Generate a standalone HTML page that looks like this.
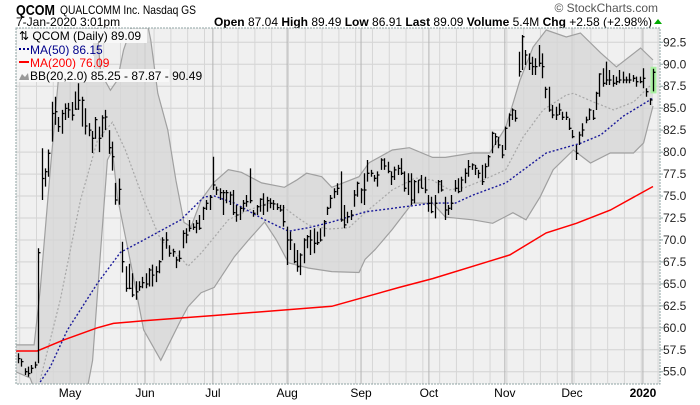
<!DOCTYPE html>
<html><head><meta charset="utf-8">
<style>
body{margin:0;background:#fff;width:700px;height:400px;overflow:hidden;font-family:"Liberation Sans",sans-serif;}
svg text{font-family:"Liberation Sans",sans-serif;}
</style></head>
<body>
<svg id="chart" width="700" height="400" viewBox="0 0 700 400" xmlns="http://www.w3.org/2000/svg">
  <g>
    <text x="16" y="15" font-size="15" font-weight="bold" fill="#000" textLength="39" lengthAdjust="spacingAndGlyphs">QCOM</text>
    <text x="60" y="14" font-size="12" fill="#000" textLength="136" lengthAdjust="spacingAndGlyphs">QUALCOMM Inc.  Nasdaq GS</text>
    <text x="16" y="26" font-size="12" fill="#000">7-Jan-2020 3:01pm</text>
    <text x="658" y="12" font-size="12" fill="#555" text-anchor="end">© StockCharts.com</text>
    <text x="652" y="26" font-size="12" fill="#000" text-anchor="end"><tspan font-weight="bold">Open</tspan> 87.04  <tspan font-weight="bold">High</tspan> 89.49  <tspan font-weight="bold">Low</tspan> 86.91  <tspan font-weight="bold">Last</tspan> 89.09  <tspan font-weight="bold">Volume</tspan> 5.4M  <tspan font-weight="bold">Chg</tspan> +2.58 (+2.98%)</text>
    <path d="M654 24 L658 19 L662 24 Z" fill="#00aa00"/>
  </g>
  <rect x="16" y="28" width="644" height="356" fill="#f0f0f0"/>
  <g id="grid"></g>
  <g id="bands"></g>
  <g id="lines"></g>
  <g id="bars"></g>
  <rect x="16" y="28" width="644" height="356" fill="none" stroke="#8fa3a3" stroke-width="1" stroke-dasharray="2,1"/>
  <g id="axes"></g>
  <g>
    <rect x="17" y="29" width="130" height="14" fill="#f8f8f8"/>
    <text x="19" y="40" font-size="12" fill="#000">⇅ QCOM (Daily) 89.09</text>
    <rect x="17" y="43" width="76" height="13" fill="#f8f8f8"/>
    <line x1="19" y1="49" x2="29" y2="49" stroke="#00008b" stroke-width="2" stroke-dasharray="2,2"/>
    <text x="30" y="54" font-size="12" fill="#00008b">MA(50) 86.15</text>
    <rect x="17" y="56" width="77" height="13" fill="#f8f8f8"/>
    <line x1="19" y1="62" x2="29" y2="62" stroke="#ff0000" stroke-width="2"/>
    <text x="30" y="67" font-size="12" fill="#ff0000">MA(200) 76.09</text>
    <rect x="17" y="69" width="152" height="13" fill="#f8f8f8"/>
    <path d="M19 80 L22 74 L25 77 L28 73 L29 80 Z" fill="#999"/>
    <text x="30" y="80" font-size="12" fill="#000">BB(20,2.0) 85.25 - 87.87 - 90.49</text>
  </g>
</svg>
<script>
// ---- data ----
const highs = [57.1,56.5,55.39,55.58,55.77,56.15,69.05,80.43,78.15,80.3,85.74,86.3,84.0,84.8,85.55,85.6,85.7,86.9,87.83,86.3,85.0,83.3,82.4,84.0,82.9,84.2,84.8,82.5,81.2,76.5,77.0,69.8,67.0,67.3,66.2,65.3,65.3,65.8,66.2,66.8,67.2,67.0,67.7,70.3,70.9,69.4,69.0,68.1,68.8,71.1,
71.33,72.27,71.9,72.27,72.84,73.79,74.55,75.12,79.48,76.07,75.88,75.69,75.69,75.5,75.69,73.98,73.79,74.55,75.12,78.15,73.41,73.98,74.74,75.31,74.93,74.74,74.55,74.17,73.98,73.98,71.52,70.95,69.62,68.86,68.48,70.19,70.57,71.14,71.33,70.95,71.33,72.27,73.79,75.12,75.88,76.45,77.8,73.98,73.22,
73.41,75.69,76.64,75.88,77.59,79.1,77.97,77.4,77.8,79.29,79.29,78.91,77.8,78.35,78.54,79.29,77.8,77.59,77.59,76.83,76.83,77.4,77.2,75.12,74.93,75.12,76.83,76.83,74.93,73.98,75.12,76.83,77.02,77.2,78.15,79.1,78.72,78.54,77.97,78.54,78.72,79.67,
82.33,82.14,81.76,80.81,82.9,84.41,84.98,84.79,91.43,93.33,91.62,91.24,90.86,90.68,92.19,91.24,87.45,87.45,85.36,85.17,85.55,84.6,84.6,83.85,82.52,80.81,82.33,83.28,84.04,84.98,84.79,86.88,88.97,89.54,90.3,89.35,88.78,88.59,89.35,89.16,88.59,88.97,88.78,88.59,88.59,89.54,87.26,86.12,89.49];
const lows = [55.96,55.58,54.63,54.44,54.82,55.39,55.96,74.55,76.07,77.2,81.2,83.1,82.3,82.1,83.66,83.9,83.6,84.8,84.8,82.9,82.0,81.8,79.9,81.5,80.0,81.7,82.5,79.8,77.9,74.0,74.0,66.3,64.1,64.4,63.5,63.2,64.2,64.5,64.5,64.7,64.7,65.2,66.2,67.7,69.0,68.1,68.1,66.8,67.5,69.05,
69.62,70.95,71.14,70.76,71.14,72.27,73.41,73.41,75.69,75.12,74.55,72.84,74.17,73.98,72.84,72.08,72.27,73.22,73.79,74.17,72.65,72.84,73.22,72.84,73.22,73.6,73.41,73.41,73.22,71.52,67.15,68.86,67.34,66.39,66.0,67.34,69.05,68.29,68.48,69.43,69.81,70.38,72.84,73.6,74.74,75.12,72.08,71.33,71.9,
72.27,73.79,74.93,74.17,73.98,76.64,77.2,76.64,76.07,77.97,77.97,77.59,76.26,76.83,77.4,77.4,75.5,75.12,73.98,74.17,75.31,75.88,75.31,73.22,73.03,72.46,75.31,75.5,72.27,72.84,73.41,75.5,75.31,75.5,76.45,77.2,77.97,77.4,77.02,76.26,77.02,78.35,
79.86,80.81,80.43,79.29,80.24,82.9,83.66,83.47,88.59,89.35,89.92,89.35,88.78,88.78,89.73,88.4,86.12,84.6,83.85,83.66,84.23,83.66,83.66,82.52,81.57,79.1,80.81,81.76,83.28,83.66,83.66,84.79,86.31,87.45,87.64,87.64,87.45,87.64,87.83,87.83,87.83,87.83,88.02,87.45,87.83,87.26,86.31,85.36,86.91];
const closes = [56.5,56.15,55.0,54.8,55.39,55.77,68.55,77.0,77.77,79.86,84.4,84.6,82.9,84.4,84.98,84.8,84.2,84.9,85.9,85.9,82.97,82.5,81.57,83.7,81.57,83.9,84.0,80.5,79.48,74.55,75.76,67.53,64.49,64.49,63.73,64.1,64.68,65.14,64.99,66.58,66.0,66.39,67.53,70.0,70.0,68.48,68.67,67.72,67.9,70.75,
70.57,71.33,71.44,71.9,71.33,73.6,74.17,74.85,76.26,75.69,75.39,75.39,75.39,75.12,73.11,72.84,73.6,74.17,74.36,74.47,73.03,73.79,74.63,73.98,74.47,74.17,74.1,73.68,73.41,72.08,70.0,70.0,67.53,66.96,68.29,70.0,70.38,70.0,69.62,69.69,70.0,72.08,73.6,74.74,75.5,75.88,72.27,71.71,72.65,
72.84,75.12,76.45,75.69,75.69,77.59,77.59,77.02,77.4,79.1,78.42,77.8,77.2,77.97,78.15,77.59,75.88,76.64,74.55,76.64,76.83,75.88,75.69,74.17,73.22,74.17,76.64,75.69,73.41,73.6,74.17,75.88,75.5,76.83,77.59,78.35,78.54,78.15,77.59,76.64,78.35,79.48,
82.14,81.76,80.81,79.67,82.71,84.23,84.79,83.85,89.16,93.14,91.05,90.11,89.73,89.73,90.11,89.73,87.15,84.79,84.23,84.23,84.79,83.96,83.96,82.71,81.76,79.86,81.95,82.52,83.66,84.79,83.85,86.69,88.89,87.83,88.21,88.21,87.83,88.02,88.21,88.21,88.21,88.21,88.4,88.02,88.02,88.4,86.88,85.93,89.09];
// moving averages / bands: [bar index, price]
const ma200 = [[-0.6,57.36],[5.7,57.36],[13.5,58.6],[23.6,60.0],[28.4,60.5],[37.4,60.8],[58.4,61.4],[93.4,62.45],[113.5,64.6],[123.4,65.6],[141.3,67.7],[146.4,68.3],[157.2,70.8],[166.2,71.9],[176.3,73.4],[189,76.09]];
const ma50 = [[6.6,53.83],[9.6,55.55],[14.7,59.75],[23.7,65.1],[30.5,68.6],[37.4,70.0],[48.5,72.3],[55.4,74.9],[58.4,75.0],[64.4,74.2],[73.4,72.3],[80.5,71.0],[86.5,71.4],[93.4,72.05],[103.3,73.2],[123.4,74.2],[130.2,74.2],[135.3,75.1],[145.2,76.5],[157.2,79.9],[167.4,81.0],[173.4,81.95],[180.2,84.1],[189,86.15]];
const bbUpper = [[-0.6,58.05],[4.8,58.05],[6.6,64.3],[9.6,78.0],[12.0,88.2],[13.2,92.8],[15.6,96.2],[23.1,96.2],[24.6,89.0],[27.5,87.05],[29.6,88.2],[31.4,91.6],[35.0,95.6],[38.0,95.6],[39.5,92.8],[41.6,86.7],[44.6,82.5],[47.0,76.8],[49.4,72.0],[51.5,71.5],[54.5,74.55],[58.4,76.6],[62.6,78.0],[66.5,77.7],[72.5,76.5],[79.3,76.0],[82.9,76.8],[85.9,77.6],[90.4,77.2],[93.4,76.0],[101.5,77.2],[104.5,78.8],[111.4,80.24],[116.5,80.5],[123.4,79.4],[127.2,79.4],[135.3,79.9],[140.4,79.9],[145.2,82.85],[149.4,88.2],[153.3,91.96],[157.2,93.9],[163.2,93.1],[167.4,93.56],[173.4,91.3],[178.1,89.7],[185.3,91.85],[189,90.49]];
const bbMid = [[6.6,54.07],[12.6,63.2],[18.6,74.55],[23.7,81.4],[28.1,83.4],[32.0,80.2],[37.4,74.55],[42.5,70.0],[48.5,67.95],[50.6,67.0],[54.5,68.5],[58.4,70.3],[62.6,72.3],[68.6,73.4],[74.6,74.2],[78.4,73.95],[82.3,72.8],[86.5,71.7],[92.5,71.25],[98.5,71.4],[103.3,73.1],[111.4,75.7],[118.3,77.05],[123.4,76.8],[128.4,75.7],[133.2,76.0],[138.3,76.8],[145.2,78.0],[150.3,81.7],[156.3,84.8],[163.2,86.5],[165.3,86.7],[171.3,85.7],[177.2,84.8],[183.2,85.7],[189,87.87]];
const bbLower = [[-0.6,54.98],[3.6,54.3],[6,51.8],[20,51.8],[22.2,56.3],[24.6,68.9],[26.6,79.1],[28.1,80.2],[29.6,74.9],[33.5,67.4],[37.4,59.75],[42.5,56.3],[48.5,60.9],[50.6,62.4],[54.5,64.0],[58.4,64.6],[64.4,68.1],[68.6,70.0],[73.4,72.05],[76.9,70.0],[80.5,67.4],[86.5,66.8],[93.4,66.4],[101.5,66.3],[103.3,67.8],[106.3,68.9],[111.4,71.2],[117.4,74.2],[123.4,74.2],[127.2,72.6],[135.3,72.3],[141.3,71.9],[147.3,73.1],[151.2,72.3],[155.4,74.9],[159.3,78.0],[165.3,80.24],[170.4,78.76],[176.3,79.9],[183.2,79.9],[186.2,81.05],[189,85.25]];
const monthLabels = ["May","Jun","Jul","Aug","Sep","Oct","Nov","Dec","2020"];
const monthIdx = [15.5,37.8,58.0,80.1,102.1,122.3,144.9,164.9,186.0];
const yTicks = [55.0,57.5,60.0,62.5,65.0,67.5,70.0,72.5,75.0,77.5,80.0,82.5,85.0,87.5,90.0,92.5];

// ---- scales ----
const L=16,T=28,R=660,B=384;
const x = i => 18 + i*(635/189);
const y = v => 42.3 + (92.5 - v)*8.785;
const NS="http://www.w3.org/2000/svg";
function mk(tag, attrs, parent){const e=document.createElementNS(NS,tag);for(const k in attrs)e.setAttribute(k,attrs[k]);parent.appendChild(e);return e;}
const clip = mk('clipPath',{id:'pc'},document.getElementById('chart'));
mk('rect',{x:L,y:T,width:R-L,height:B-T},clip);

// grid
const grid=document.getElementById('grid');
yTicks.forEach(v=>{const l=mk('line',{x1:L,x2:R,y1:y(v),y2:y(v),stroke:'#d2d2d2','stroke-width':1},grid);

});
for(let k=-3;k<40;k++){const i=15.5+k*5;const xx=x(i);if(xx<L||xx>R)continue;
const l=mk('line',{x1:xx,x2:xx,y1:T,y2:B,stroke:'#d6d6d6','stroke-width':1},grid);

}
monthIdx.forEach(i=>{const l=mk('line',{x1:x(i),x2:x(i),y1:T,y2:B,stroke:'#b4b4b4','stroke-width':1},grid);

});

// bands
const pts = arr => arr.map(p=>x(p[0]).toFixed(1)+','+y(p[1]).toFixed(1));
const bands=document.getElementById('bands');bands.setAttribute('clip-path','url(#pc)');
const bandPoly=mk('polygon',{points:pts(bbUpper).concat(pts(bbLower).reverse()).join(' '),fill:'#d6d6d6','fill-opacity':0.75},bands);


const bu=mk('polyline',{points:pts(bbUpper).join(' '),fill:'none',stroke:'#a0a0a0','stroke-width':1.2},bands);


const bl=mk('polyline',{points:pts(bbLower).join(' '),fill:'none',stroke:'#a0a0a0','stroke-width':1.2},bands);


const bm=mk('polyline',{points:pts(bbMid).join(' '),fill:'none',stroke:'#a8a8a8','stroke-width':1.2,'stroke-dasharray':'2,2'},bands);



const lines=document.getElementById('lines');lines.setAttribute('clip-path','url(#pc)');
const m200=mk('polyline',{points:pts(ma200).join(' '),fill:'none',stroke:'#ff0000','stroke-width':1.5},lines);


const m50=mk('polyline',{points:pts(ma50).join(' '),fill:'none',stroke:'#1a1a9a','stroke-width':1.4,'stroke-dasharray':'2,2'},lines);



// bars
const bars=document.getElementById('bars');
closes.forEach((c,i)=>{
  const xx=Math.round(x(i))+0.5;const last=i===closes.length-1;
  if(last){const hl=mk('rect',{x:xx-3,y:y(highs[i])-2,width:6,height:y(lows[i])-y(highs[i])+4,fill:'#a8f0a0'},bars);
  
  }
  const g=mk('path',{d:`M${xx} ${y(highs[i]).toFixed(1)}V${y(lows[i]).toFixed(1)}M${xx} ${y(c).toFixed(1)}H${xx+2}`,stroke:'#000','stroke-width':1.3,fill:'none'},bars);
  
  
});

// axes
const axes=document.getElementById('axes');
yTicks.forEach(v=>{const t=mk('text',{x:663,y:y(v)+4,'font-size':12,fill:'#222'},axes);t.textContent=v.toFixed(1);


const tk=mk('line',{x1:R,x2:R+3,y1:y(v),y2:y(v),stroke:'#8fa3a3'},axes);

});
monthLabels.forEach((m,k)=>{const t=mk('text',{x:x(monthIdx[k]),y:397,'font-size':12,fill:'#000','text-anchor':'middle','font-weight':m==='2020'?'bold':'normal'},axes);t.textContent=m;

});
</script>
</body></html>
